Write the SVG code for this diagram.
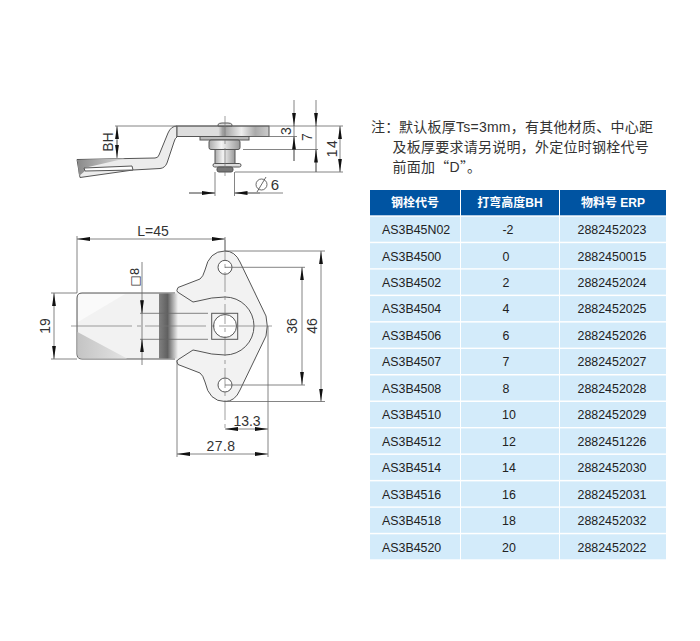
<svg xmlns="http://www.w3.org/2000/svg" width="700" height="641" viewBox="0 0 700 641">
<style>
.d{stroke:#666;stroke-width:.8;fill:none}
.a{stroke:#666;stroke-width:.8;fill:none;marker-end:url(#ar)}
.c{stroke:#777;stroke-width:.7;fill:none;stroke-dasharray:20 4 4 4}
.o{stroke:#555;stroke-width:1;fill:#f2f2f2}
.n{fill:none;stroke:#555;stroke-width:1}
.t{font-family:"Liberation Sans",Arial,sans-serif;font-size:14px;fill:#333;text-anchor:middle}
.note{font-family:"Noto Sans CJK SC","Liberation Sans",sans-serif;font-size:14px;letter-spacing:.25px;fill:#333}
.lat{font-family:"Liberation Sans",Arial,sans-serif}
.hd{fill:#0054a2}.row{fill:#d3ebfa}
.h{font-family:"Liberation Sans","Noto Sans CJK SC",sans-serif;font-size:12px;font-weight:700;fill:#fff;text-anchor:middle}
.b{font-family:"Liberation Sans",Arial,sans-serif;font-size:12.4px;fill:#222;text-anchor:middle}
.l{font-family:"Liberation Sans",Arial,sans-serif;font-size:12.4px;fill:#222}
</style>
<defs>
<marker id="ar" markerUnits="userSpaceOnUse" markerWidth="13" markerHeight="5" refX="13" refY="2.5" orient="auto"><path d="M0 .6L13 2.5L0 4.4z" fill="#111"/></marker>
<linearGradient id="plate" x1="0" x2="1" y1="0" y2="0"><stop offset="0" stop-color="#ddd"/><stop offset=".45" stop-color="#ddd"/><stop offset=".5" stop-color="#999"/><stop offset=".7" stop-color="#eee"/><stop offset=".85" stop-color="#aaa"/><stop offset="1" stop-color="#ccc"/></linearGradient>
<linearGradient id="cyl" x1="0" x2="1" y1="0" y2="0"><stop offset="0" stop-color="#aaa"/><stop offset=".4" stop-color="#f4f4f4"/><stop offset="1" stop-color="#999"/></linearGradient>
<linearGradient id="wedge" x1="0" x2="1" y1="0" y2="0"><stop offset="0" stop-color="#8a8a8a"/><stop offset="1" stop-color="#d8d8d8"/></linearGradient>
<linearGradient id="band" x1="0" x2="1" y1="0" y2="0"><stop offset="0" stop-color="#808080"/><stop offset=".45" stop-color="#606060"/><stop offset="1" stop-color="#f2f2f2"/></linearGradient>
<linearGradient id="tri" x1="0" x2="1" y1="0" y2="0"><stop offset="0" stop-color="#c4c4c4"/><stop offset="1" stop-color="#e4e4e4"/></linearGradient>
</defs>
<g id="side-view">
<path class="o" style="fill:#ececec" d="M177 126Q171 126 168 133L159 155Q158 158 155 158L77 159.500L80 177.500L133 170L160 168.500Q165 168 167 163L174 142Q175 138 177 137z"/>
<path fill="url(#wedge)" d="M77.500 160L125 158.500L84 168L85 171L79 176z"/>
<path class="n" d="M84 168L132 166L133 170L85 171z" style="fill:#fff"/>
<rect class="o" style="fill:url(#plate)" x="177" y="126" width="92" height="10.500"/>
<path class="o" style="fill:#ddd" d="M218 126V124.500Q219 123 222 123H228Q231 123 232 124.500V126z"/>
<rect class="o" style="fill:#bbb" x="200" y="136.500" width="49" height="3.500"/>
<rect class="o" style="fill:url(#cyl)" x="209" y="140" width="31" height="9.500" rx="2"/>
<rect class="o" style="fill:url(#cyl)" x="215" y="149.500" width="20" height="14"/>
<rect class="o" style="fill:#ddd" x="213" y="163.500" width="28" height="3.500" rx="1.700"/>
<rect class="o" style="fill:#777" x="217" y="167" width="16" height="5" rx="2"/>
</g>
<g id="top-view">
<path class="o" d="M82 293H177V359H82Q77 359 77 354V298Q77 293 82 293z"/>
<path fill="#fafafa" d="M78 322L125 294H82Q78 294 78 298z"/>
<path fill="url(#tri)" d="M77.500 332L127 358.500H82Q77.500 358.500 77.500 354z"/>
<rect x="175" y="292" width="81" height="68" fill="#f2f2f2"/>
<rect x="159" y="293.500" width="19" height="65" fill="url(#band)"/>
<path class="o" d="M178 287.500L200 279Q203 277 205 270Q209 251 225 251Q235 251 240 262L266 316Q268.500 326 266 336L240 390Q235 401.500 225 401.500Q209 401.500 205 382Q203 375 200 373L178 364.500Q176 361 177.500 360L193 350L198 351Q212 355 225 355A29 29 0 0 0 225 297Q212 297 198 301L193 302L177.500 292Q176 291 178 287.500z"/>
<rect x="211.700" y="313.300" width="26" height="26" class="n"/>
<circle cx="225" cy="326" r="11.500" class="n" style="fill:#fff"/>
<circle cx="225" cy="267.300" r="7" class="n" style="fill:#fff"/>
<circle cx="225" cy="385" r="7" class="n" style="fill:#fff"/>
</g>
<g id="dimensions">
<path class="d" d="M115 126H343M250 136.500H297M243 149.500H318M235 172H343"/>
<path class="d" d="M294 125V161M316 125V172M215 172V196M234.500 172V196M189 193H215M234.500 193H283"/>
<path class="a" d="M117 146V126"/><path class="a" d="M117 140V158"/>
<path class="a" d="M294 100V126"/><path class="a" d="M294 161V136.500"/>
<path class="a" d="M316 100V126"/><path class="a" d="M316 172V149.500"/>
<path class="a" d="M340 150V126"/><path class="a" d="M340 150V172"/>
<path class="a" d="M189 193H215"/><path class="a" d="M260 193H234.500"/>
<path class="c" d="M225 116V178"/>
<path class="d" d="M77 236V293M225 237V251"/>
<path class="a" d="M150 239H77"/><path class="a" d="M150 239H225"/>
<path class="d" d="M51 293H77M51 359H77M140 313.300H208M140 339.300H208"/>
<path class="a" d="M54 326V293"/><path class="a" d="M54 326V359"/>
<path class="d" d="M142 262V365"/>
<path class="a" d="M142 300V313.300"/><path class="a" d="M142 352V339.300"/>
<path class="c" style="stroke-dasharray:61 5 4 4" d="M71 326H272"/>
<path class="c" d="M225 240V432"/>
<path class="d" d="M225 267.300H305M225 385H305M225 251H325M225 401.500H325M268 326V457M177 360V457"/>
<path class="a" d="M302 326V267.300"/><path class="a" d="M302 326V385"/>
<path class="a" d="M321 326V251"/><path class="a" d="M321 326V401.500"/>
<path class="a" d="M246 429H225"/><path class="a" d="M246 429H268"/>
<path class="a" d="M222 454H177"/><path class="a" d="M222 454H268"/>
</g>
<g id="dimension-labels">
<text class="t" transform="translate(113 142) rotate(-90)">BH</text>
<text class="t" transform="translate(291 131) rotate(-90)">3</text>
<text class="t" transform="translate(312 137) rotate(-90)">7</text>
<text class="t" transform="translate(337 148) rotate(-90)" style="letter-spacing:1.500px">14</text>
<text class="t" x="275" y="190" style="font-size:15px">6</text>
<circle cx="261.500" cy="184.500" r="5.500" class="d" style="stroke:#444"/><path class="d" d="M257 192L266 177" style="stroke:#444"/>
<text class="t" x="153" y="236">L=45</text>
<text class="t" transform="translate(50 326) rotate(-90)">19</text>
<text class="t" transform="translate(139 277) rotate(-90)" style="font-family:'DejaVu Sans',sans-serif;font-size:12px">□8</text>
<text class="t" transform="translate(297 326) rotate(-90)">36</text>
<text class="t" transform="translate(317 326) rotate(-90)">46</text>
<text class="t" x="247" y="426">13.3</text>
<text class="t" x="221" y="451" style="letter-spacing:.4px">27.8</text>
</g>
<g id="note">
<text class="note" x="371" y="132">注&#xFF1A;</text>
<text class="note" x="399" y="132">默认板厚<tspan class="lat">Ts=3mm</tspan>&#xFF0C;有其他材质、中心距</text>
<text class="note" x="392.500" y="152">及板厚要求请另说明&#xFF0C;外定位时钢栓代号</text>
<text class="note" x="392.500" y="172">前面加&#x201C;<tspan class="lat">D</tspan>&#x201D;&#x3002;</text>
</g>
<g id="table">
<rect class="hd" x="370" y="190" width="90" height="25.300"/><rect class="hd" x="461" y="190" width="98" height="25.300"/><rect class="hd" x="560" y="190" width="106" height="25.300"/>
<text class="h" x="415" y="207">钢栓代号</text><text class="h" x="510" y="207">打弯高度BH</text><text class="h" x="613" y="207">物料号 ERP</text>
<g id="r0"><rect class="row" x="370" y="216.700" width="90" height="25"/><rect class="row" x="461" y="216.700" width="98" height="25"/><rect class="row" x="560" y="216.700" width="106" height="25"/><text class="l" x="382" y="234">AS3B45N02</text><text class="b" x="508" y="234">-2</text><text class="b" x="612" y="234">2882452023</text></g>
<g id="r1"><rect class="row" x="370" y="243.200" width="90" height="25"/><rect class="row" x="461" y="243.200" width="98" height="25"/><rect class="row" x="560" y="243.200" width="106" height="25"/><text class="l" x="382" y="260.500">AS3B4500</text><text class="b" x="506" y="260.500">0</text><text class="b" x="612" y="260.500">2882450015</text></g>
<g id="r2"><rect class="row" x="370" y="269.600" width="90" height="25"/><rect class="row" x="461" y="269.600" width="98" height="25"/><rect class="row" x="560" y="269.600" width="106" height="25"/><text class="l" x="382" y="287">AS3B4502</text><text class="b" x="506" y="287">2</text><text class="b" x="612" y="287">2882452024</text></g>
<g id="r3"><rect class="row" x="370" y="296.100" width="90" height="25"/><rect class="row" x="461" y="296.100" width="98" height="25"/><rect class="row" x="560" y="296.100" width="106" height="25"/><text class="l" x="382" y="313.400">AS3B4504</text><text class="b" x="506" y="313.400">4</text><text class="b" x="612" y="313.400">2882452025</text></g>
<g id="r4"><rect class="row" x="370" y="322.600" width="90" height="25"/><rect class="row" x="461" y="322.600" width="98" height="25"/><rect class="row" x="560" y="322.600" width="106" height="25"/><text class="l" x="382" y="339.900">AS3B4506</text><text class="b" x="506" y="339.900">6</text><text class="b" x="612" y="339.900">2882452026</text></g>
<g id="r5"><rect class="row" x="370" y="349" width="90" height="25"/><rect class="row" x="461" y="349" width="98" height="25"/><rect class="row" x="560" y="349" width="106" height="25"/><text class="l" x="382" y="366.300">AS3B4507</text><text class="b" x="506" y="366.300">7</text><text class="b" x="612" y="366.300">2882452027</text></g>
<g id="r6"><rect class="row" x="370" y="375.500" width="90" height="25"/><rect class="row" x="461" y="375.500" width="98" height="25"/><rect class="row" x="560" y="375.500" width="106" height="25"/><text class="l" x="382" y="392.800">AS3B4508</text><text class="b" x="506" y="392.800">8</text><text class="b" x="612" y="392.800">2882452028</text></g>
<g id="r7"><rect class="row" x="370" y="402" width="90" height="25"/><rect class="row" x="461" y="402" width="98" height="25"/><rect class="row" x="560" y="402" width="106" height="25"/><text class="l" x="382" y="419.300">AS3B4510</text><text class="b" x="509" y="419.300">10</text><text class="b" x="612" y="419.300">2882452029</text></g>
<g id="r8"><rect class="row" x="370" y="428.400" width="90" height="25"/><rect class="row" x="461" y="428.400" width="98" height="25"/><rect class="row" x="560" y="428.400" width="106" height="25"/><text class="l" x="382" y="445.700">AS3B4512</text><text class="b" x="509" y="445.700">12</text><text class="b" x="612" y="445.700">2882451226</text></g>
<g id="r9"><rect class="row" x="370" y="454.900" width="90" height="25"/><rect class="row" x="461" y="454.900" width="98" height="25"/><rect class="row" x="560" y="454.900" width="106" height="25"/><text class="l" x="382" y="472.200">AS3B4514</text><text class="b" x="509" y="472.200">14</text><text class="b" x="612" y="472.200">2882452030</text></g>
<g id="r10"><rect class="row" x="370" y="481.400" width="90" height="25"/><rect class="row" x="461" y="481.400" width="98" height="25"/><rect class="row" x="560" y="481.400" width="106" height="25"/><text class="l" x="382" y="498.700">AS3B4516</text><text class="b" x="509" y="498.700">16</text><text class="b" x="612" y="498.700">2882452031</text></g>
<g id="r11"><rect class="row" x="370" y="507.800" width="90" height="25"/><rect class="row" x="461" y="507.800" width="98" height="25"/><rect class="row" x="560" y="507.800" width="106" height="25"/><text class="l" x="382" y="525.100">AS3B4518</text><text class="b" x="509" y="525.100">18</text><text class="b" x="612" y="525.100">2882452032</text></g>
<g id="r12"><rect class="row" x="370" y="534.300" width="90" height="25"/><rect class="row" x="461" y="534.300" width="98" height="25"/><rect class="row" x="560" y="534.300" width="106" height="25"/><text class="l" x="382" y="551.600">AS3B4520</text><text class="b" x="509" y="551.600">20</text><text class="b" x="612" y="551.600">2882452022</text></g>
</g>
</svg>
